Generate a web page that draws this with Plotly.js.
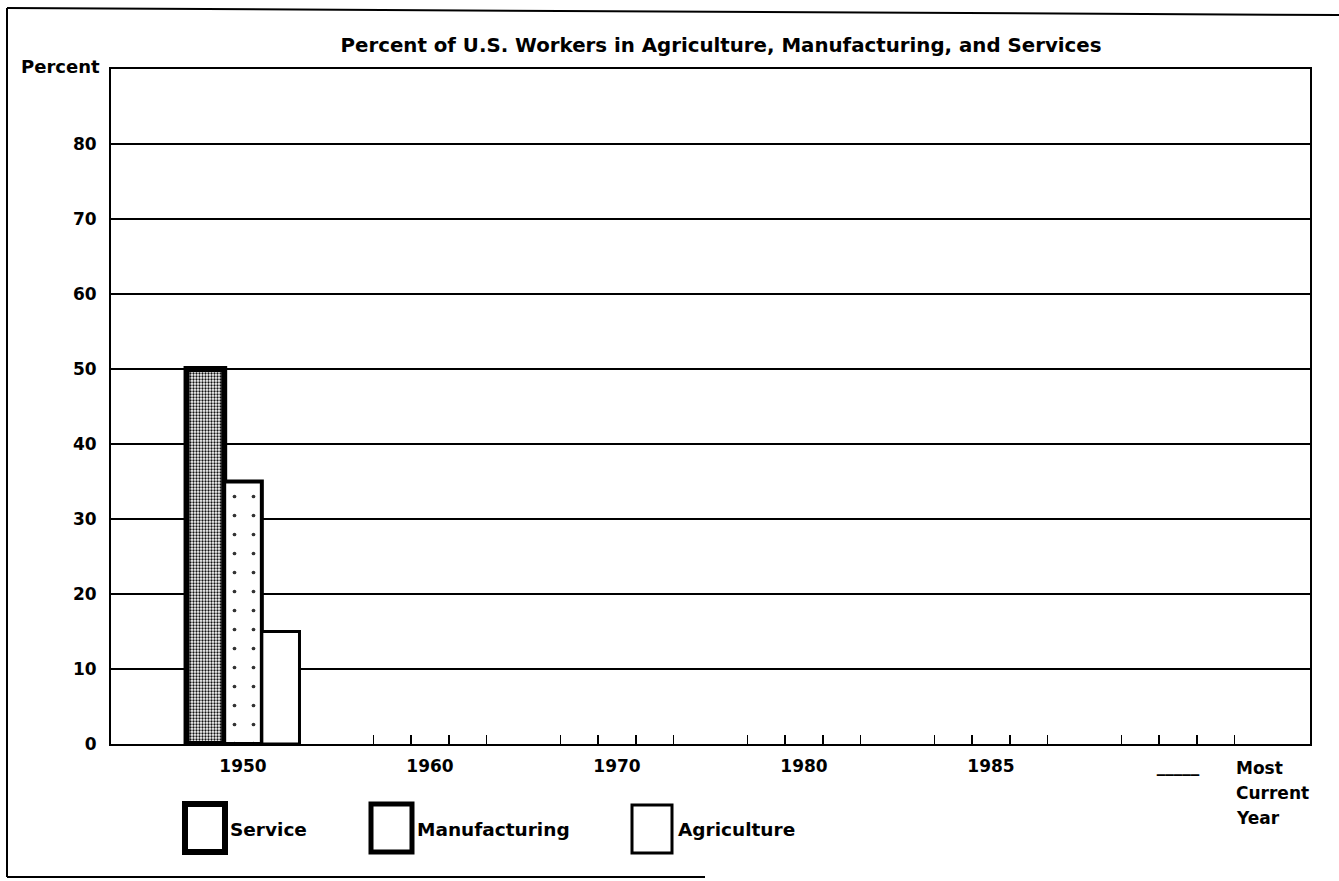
<!DOCTYPE html>
<html>
<head>
<meta charset="utf-8">
<script src="https://cdn.plot.ly/plotly-3.0.1.min.js"></script>
<style>
  html, body { margin: 0; padding: 0; background: #fff; overflow: hidden; }
  #chart { width: 1339px; height: 881px; }
</style>
</head>
<body>
<div id="chart"></div>
<script>
// ---- data ----
const chartTitle = "Percent of U.S. Workers in Agriculture, Manufacturing, and Services";
const yAxisLabel = "Percent";
const categories = ["1950", "1960", "1970", "1980", "1985", "Most Current Year"];
const tickLabels = ["1950", "1960", "1970", "1980", "1985", "_____"];
const seriesNames = ["Service", "Manufacturing", "Agriculture"];
const serviceValues = [50, null, null, null, null, null];
const manufacturingValues = [35, null, null, null, null, null];
const agricultureValues = [15, null, null, null, null, null];
const yTicks = [0, 10, 20, 30, 40, 50, 60, 70, 80];

// ---- styling ----
const FONT = "DejaVu Sans, Liberation Sans, Arial, sans-serif";
const bargap = 0.396;
const nSeries = seriesNames.length;
const barW = (1 - bargap) / nSeries;

const traces = [
  {
    type: "bar", name: seriesNames[0], x: categories, y: serviceValues,
    marker: {
      color: "#ffffff",
      line: { color: "#000", width: 6 },
      pattern: { shape: ".", fillmode: "replace", bgcolor: "#ffffff", fgcolor: "#111111", size: 3, solidity: 0.45 }
    }
  },
  {
    type: "bar", name: seriesNames[1], x: categories, y: manufacturingValues,
    marker: {
      color: "#ffffff",
      line: { color: "#000", width: 4 },
      pattern: { shape: ".", fillmode: "replace", bgcolor: "#ffffff", fgcolor: "#333333", size: 19, solidity: 0.03 }
    }
  },
  {
    type: "bar", name: seriesNames[2], x: categories, y: agricultureValues,
    marker: { color: "#ffffff", line: { color: "#000", width: 3 } }
  }
];

// tick marks at bar boundaries (derived from category count and bar width)
const minorTicks = [];
categories.forEach((c, i) => {
  for (let k = 0; k <= nSeries; k++) {
    minorTicks.push(i - (1 - bargap) / 2 + k * barW);
  }
});
const xRange = [-0.706, categories.length - 1 + 0.706];

// layout geometry (pixels)
const L = 111, R = 1310, T = 69, B = 744, W = 1339, H = 881;
const px = (x) => (x - L) / (R - L);
const py = (y) => (B - y) / (B - T);

// custom legend: boxes + labels
const legendBoxes = [
  { x0: 185, x1: 225, y0: 804, y1: 852, w: 6, tx: 228 },
  { x0: 371, x1: 412, y0: 804, y1: 852, w: 5, tx: 415 },
  { x0: 632, x1: 672, y0: 805, y1: 853, w: 3, tx: 676 }
];
const shapes = [];
const annotations = [];
legendBoxes.forEach((b, i) => {
  shapes.push({
    type: "rect", xref: "paper", yref: "paper",
    x0: px(b.x0), x1: px(b.x1), y0: py(b.y1), y1: py(b.y0),
    line: { color: "#000", width: b.w }, fillcolor: "#fff"
  });
  annotations.push({
    xref: "paper", yref: "paper", x: px(b.tx), y: py(829),
    xanchor: "left", yanchor: "middle", showarrow: false,
    text: seriesNames[i], font: { family: FONT, size: 18.5, weight: "bold", color: "#000" }
  });
});

// outer frame of the worksheet
shapes.push({ type: "line", xref: "paper", yref: "paper", x0: px(7), x1: px(7), y0: py(8), y1: py(877), line: { color: "#000", width: 2 } });
shapes.push({ type: "line", xref: "paper", yref: "paper", x0: px(7), x1: px(1339), y0: py(8), y1: py(15), line: { color: "#000", width: 2 } });
shapes.push({ type: "line", xref: "paper", yref: "paper", x0: px(7), x1: px(705), y0: py(877), y1: py(877), line: { color: "#000", width: 2 } });

// "Percent" axis caption
annotations.push({
  xref: "paper", yref: "paper", x: px(102), y: py(67),
  xanchor: "right", yanchor: "middle", showarrow: false,
  text: yAxisLabel, font: { family: FONT, size: 18, weight: "bold", color: "#000" }
});
// "Most Current Year" caption next to the blank, one word per line
categories[categories.length - 1].split(" ").forEach((word, k) => {
  annotations.push({
    xref: "paper", yref: "paper", x: px(1234), y: py(768 + 25 * k),
    xanchor: "left", yanchor: "middle", showarrow: false,
    text: word, font: { family: FONT, size: 17, weight: "bold", color: "#000" }
  });
});

const layout = {
  width: W, height: H, autosize: false,
  margin: { l: L, r: W - R, t: T, b: H - B, pad: 0 },
  paper_bgcolor: "#fff", plot_bgcolor: "#fff",
  showlegend: false,
  barmode: "group", bargap: bargap, bargroupgap: 0,
  title: {
    text: chartTitle, xref: "container", yref: "container",
    x: 721 / W, y: 1 - 45 / H, xanchor: "center", yanchor: "middle",
    font: { family: FONT, size: 19.8, weight: "bold", color: "#000" }
  },
  xaxis: {
    type: "category", range: xRange,
    tickvals: categories, ticktext: tickLabels,
    showgrid: false, zeroline: false,
    showline: true, mirror: true, linecolor: "#000", linewidth: 2,
    ticks: "", ticklabelstandoff: 6,
    tickfont: { family: FONT, size: 17, weight: "bold", color: "#000" }
  },
  xaxis2: {
    overlaying: "x", anchor: "y", side: "bottom", type: "linear",
    range: xRange, tickvals: minorTicks, ticks: "inside", ticklen: 9,
    tickwidth: 1.5, tickcolor: "#000", showticklabels: false,
    showgrid: false, zeroline: false, showline: false
  },
  yaxis: {
    range: [0, 90], tickvals: yTicks, ticktext: yTicks.map(String),
    showgrid: true, gridcolor: "#000", gridwidth: 1.5,
    zeroline: false, showline: true, mirror: true, linecolor: "#000", linewidth: 2,
    ticks: "", ticklabelstandoff: 9,
    tickfont: { family: FONT, size: 17, weight: "bold", color: "#000" }
  },
  shapes: shapes,
  annotations: annotations
};

// invisible trace to activate the tick-mark axis
traces.push({ type: "scatter", x: [xRange[0]], y: [0], xaxis: "x2", yaxis: "y", mode: "markers", marker: { opacity: 0 }, hoverinfo: "skip", showlegend: false });

Plotly.newPlot("chart", traces, layout, { displayModeBar: false, staticPlot: true });
</script>
</body>
</html>
